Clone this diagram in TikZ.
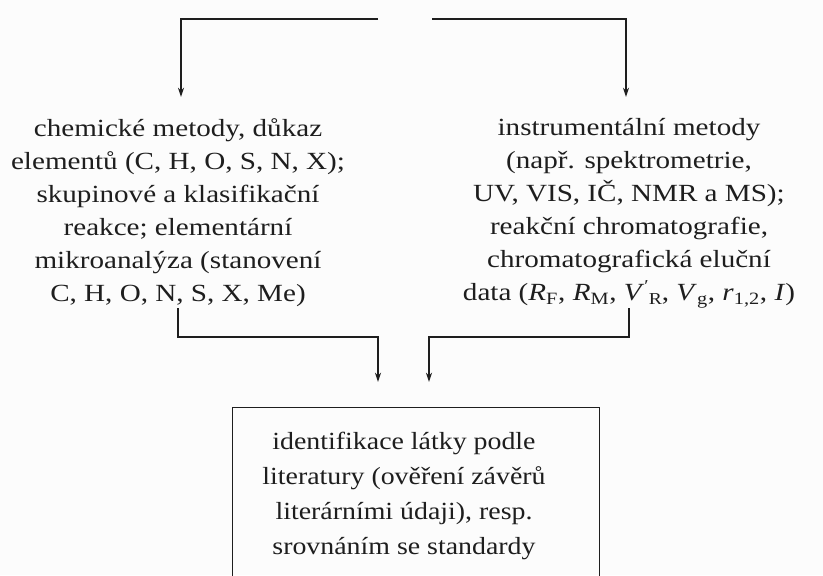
\documentclass[tikz,border=0pt]{standalone}
\usepackage{fontspec}
\setmainfont{Liberation Serif}[FakeStretch=1.18]
\newfontfamily\boxfont{Liberation Serif}[FakeStretch=1.13]
\usetikzlibrary{arrows.meta}
\definecolor{ink}{RGB}{30,30,30}
\definecolor{paper}{RGB}{252,252,252}
% italic quantity with lower index
\newcommand{\qty}[2]{\textit{#1}\textsubscript{#2}}
% index-sized text
\newcommand{\idx}[1]{{\fontsize{12.5}{12.5}\selectfont #1}}
\begin{document}
\begin{tikzpicture}[x=0.75pt,y=-0.75pt,
  txt/.style={align=center,font=\fontsize{18.5}{24.8}\selectfont,text=ink,inner sep=0pt},
  conn/.style={draw=ink,line width=1pt},
  arr/.style={conn,-{Stealth[length=7pt,width=4.5pt]}},
  framebox/.style={draw=ink,line width=1pt,minimum width=367*0.75pt,minimum height=190*0.75pt,inner sep=0pt,anchor=north}]
  % page
  \fill[paper] (0,0) rectangle (823,575);
  \useasboundingbox (0,0) rectangle (823,575);

  % free ends of the upper bracket
  \coordinate (tl) at (378,19);
  \coordinate (tr) at (432,19);
  \coordinate (tipl) at (181,97);
  \coordinate (tipr) at (626,97);

  % the two groups of methods
  \node[txt] (chem) at (178,213) {chemické metody, důkaz\\
    elementů (C, H, O, S, N, X);\\
    skupinové a klasifikační\\
    reakce; elementární\\
    mikroanalýza (stanovení\\
    C, H, O, N, S, X, Me)};
  \node[txt] (instr) at (629,213) {instrumentální metody\\
    (např. spektrometrie,\\
    UV, VIS, IČ, NMR a MS);\\
    reakční chromatografie,\\
    chromatografická eluční\\
    data (\qty{R}{F}, \qty{R}{M}, \textit{V}\raisebox{0.8ex}{\idx{′}}\raisebox{-0.35ex}{\idx{R}}, \qty{V}{g}, \qty{r}{1,2}, \textit{I})};

  % result box and its text
  \node[framebox] (ident) at (416,407) {};
  \node[txt,font=\boxfont\fontsize{18.5}{26.3}\selectfont] (identtext) at (404,496) {identifikace látky podle\\
    literatury (ověření závěrů\\
    literárními údaji), resp.\\
    srovnáním se standardy};

  % upper bracket
  \draw[arr] (tl) -| (tipl);
  \draw[arr] (tr) -| (tipr);

  % lower bracket
  \coordinate (bl) at (178,308);
  \coordinate (br) at (629,308);
  \draw[arr] (bl) -- (178,337) -| ([xshift=-38*0.75pt,yshift=25*0.75pt]ident.north);
  \draw[arr] (br) -- (629,337) -| ([xshift=13*0.75pt,yshift=25*0.75pt]ident.north);
\end{tikzpicture}
\end{document}
